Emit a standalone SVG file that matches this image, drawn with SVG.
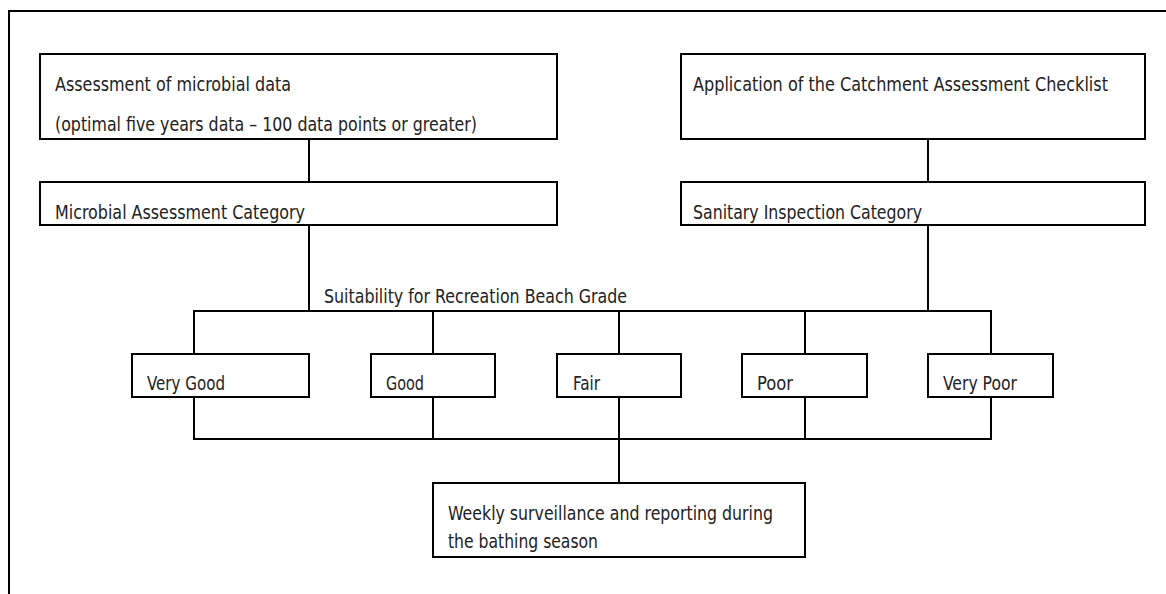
<svg xmlns="http://www.w3.org/2000/svg" width="1166" height="594" viewBox="0 0 1166 594">
<style>
.box{fill:#fff;stroke:#000;stroke-width:2}
.ln{fill:none;stroke:#000;stroke-width:2}
text{font-family:"DejaVu Sans Condensed","DejaVu Sans","Liberation Sans",sans-serif;font-stretch:condensed;font-size:19px;fill:#222}
</style>
<rect width="1166" height="594" fill="#fff"/>
<path class="ln" d="M9,594 V11 H1166"/>
<g id="connectors">
<path class="ln" d="M309,139 V182"/>
<path class="ln" d="M928,139 V182"/>
<path class="ln" d="M309,225 V311"/>
<path class="ln" d="M928,225 V311"/>
<path class="ln" d="M194,354 V311 H991 V354"/>
<path class="ln" d="M433,311 V354 M619,311 V354 M805,311 V354"/>
<path class="ln" d="M194,397 V439 H991 V397"/>
<path class="ln" d="M433,397 V439 M805,397 V439 M619,397 V483"/>
</g>
<text x="324" y="303" textLength="303" lengthAdjust="spacingAndGlyphs">Suitability for Recreation Beach Grade</text>
<g id="n1"><rect class="box" x="40" y="54" width="517" height="85"/>
<text x="55" y="91" textLength="236" lengthAdjust="spacingAndGlyphs">Assessment of microbial data</text>
<text x="55" y="131" textLength="422" lengthAdjust="spacingAndGlyphs">(optimal five years data – 100 data points or greater)</text></g>
<g id="n2"><rect class="box" x="40" y="182" width="517" height="43"/>
<text x="55" y="219" textLength="250" lengthAdjust="spacingAndGlyphs">Microbial Assessment Category</text></g>
<g id="n3"><rect class="box" x="681" y="54" width="464" height="85"/>
<text x="693" y="91" textLength="415" lengthAdjust="spacingAndGlyphs">Application of the Catchment Assessment Checklist</text></g>
<g id="n4"><rect class="box" x="681" y="182" width="464" height="43"/>
<text x="693" y="219" textLength="229" lengthAdjust="spacingAndGlyphs">Sanitary Inspection Category</text></g>
<g id="g1"><rect class="box" x="132" y="354" width="177" height="43"/>
<text x="147" y="390" textLength="78" lengthAdjust="spacingAndGlyphs">Very Good</text></g>
<g id="g2"><rect class="box" x="371" y="354" width="124" height="43"/>
<text x="386" y="390" textLength="38" lengthAdjust="spacingAndGlyphs">Good</text></g>
<g id="g3"><rect class="box" x="557" y="354" width="124" height="43"/>
<text x="573" y="390" textLength="27" lengthAdjust="spacingAndGlyphs">Fair</text></g>
<g id="g4"><rect class="box" x="742" y="354" width="125" height="43"/>
<text x="757" y="390" textLength="36" lengthAdjust="spacingAndGlyphs">Poor</text></g>
<g id="g5"><rect class="box" x="928" y="354" width="125" height="43"/>
<text x="943" y="390" textLength="74" lengthAdjust="spacingAndGlyphs">Very Poor</text></g>
<g id="n5"><rect class="box" x="433" y="483" width="372" height="74"/>
<text x="448" y="520" textLength="325" lengthAdjust="spacingAndGlyphs">Weekly surveillance and reporting during</text>
<text x="448" y="548" textLength="150" lengthAdjust="spacingAndGlyphs">the bathing season</text></g>
</svg>
